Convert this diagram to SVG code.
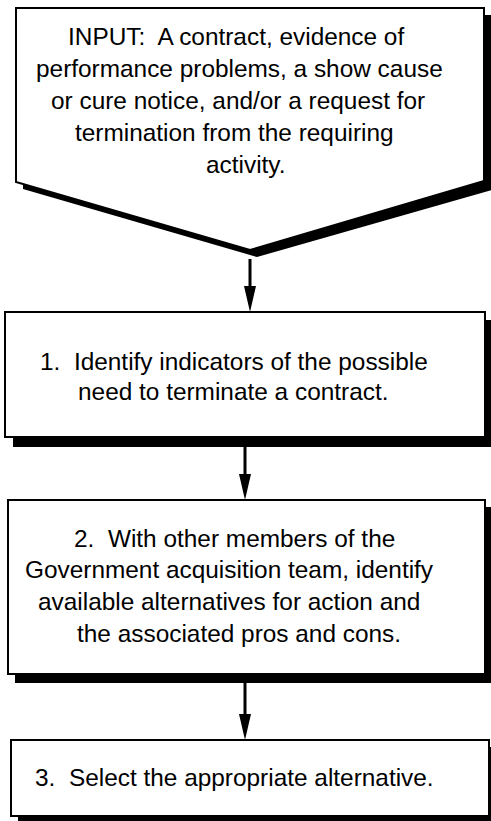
<svg xmlns="http://www.w3.org/2000/svg" width="491" height="821" viewBox="0 0 491 821">
<style>
.box{fill:#fff;stroke:#000;stroke-width:2}
.shadow{fill:#000}
.t{font-family:"Liberation Sans",Arial,sans-serif;font-size:24.4px;fill:#000;white-space:pre}
.conn{stroke:#000;stroke-width:3;fill:none}
</style>
<rect width="491" height="821" fill="#fff"/>
<g id="input">
<polygon class="shadow" points="23,15 499,15 499,188 257,257 23,189"/>
<polygon class="box" points="16,8 484,8 484,181 250,250 16,182"/>
<text class="t" xml:space="preserve"><tspan x="68" y="45">INPUT:  A contract, evidence of</tspan><tspan x="36" y="77">performance problems, a show cause</tspan><tspan x="51" y="109">or cure notice, and/or a request for</tspan><tspan x="75" y="141">termination from the requiring</tspan><tspan x="206" y="173">activity.</tspan></text>
</g>
<g id="step1">
<rect class="shadow" x="13" y="320" width="480" height="127"/>
<rect class="box" x="5" y="312" width="480" height="125"/>
<text class="t" xml:space="preserve"><tspan x="40" y="370">1.  Identify indicators of the possible</tspan><tspan x="78" y="400">need to terminate a contract.</tspan></text>
</g>
<g id="step2">
<rect class="shadow" x="15" y="507" width="478" height="176"/>
<rect class="box" x="8" y="500" width="477" height="174"/>
<text class="t" xml:space="preserve"><tspan x="74" y="547">2.  With other members of the</tspan><tspan x="25" y="578">Government acquisition team, identify</tspan><tspan x="38" y="610">available alternatives for action and</tspan><tspan x="77" y="642">the associated pros and cons.</tspan></text>
</g>
<g id="step3">
<rect class="shadow" x="18" y="747" width="480" height="80"/>
<rect class="box" x="11" y="740" width="478" height="76"/>
<text class="t" xml:space="preserve"><tspan x="35" y="786">3.  Select the appropriate alternative.</tspan></text>
</g>
<g id="connectors">
<line class="conn" x1="250" y1="259" x2="250" y2="286"/>
<path d="M244,286 L256,286 L250,312 Z" fill="#000"/>
<line class="conn" x1="245" y1="447" x2="245" y2="474"/>
<path d="M239,474 L251,474 L245,500 Z" fill="#000"/>
<line class="conn" x1="245" y1="683" x2="245" y2="714"/>
<path d="M239,714 L251,714 L245,740 Z" fill="#000"/>
</g>
</svg>
